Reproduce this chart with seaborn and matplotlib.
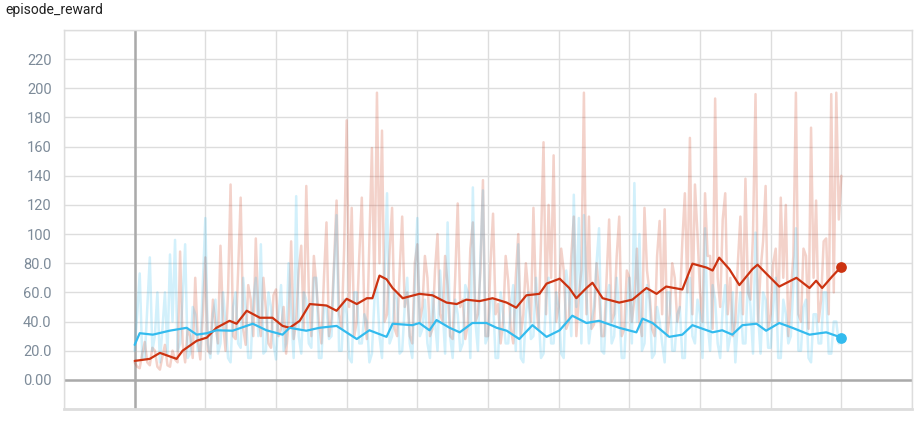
import numpy as np
import pandas as pd
import matplotlib
matplotlib.use("Agg")
import matplotlib.pyplot as plt
import seaborn as sns

red_raw = [12, 9, 8, 18, 26, 12, 10, 22, 20, 9, 7, 16, 24, 10, 9, 20, 14, 12, 88, 25,
           12, 35, 30, 15, 70, 28, 14, 45, 84, 20, 18, 55, 38, 25, 92, 40, 20, 60, 134, 30,
           28, 75, 125, 35, 24, 65, 55, 30, 97, 45, 30, 70, 48, 25, 22, 58, 62, 30, 35, 50,
           18, 40, 95, 28, 40, 75, 92, 35, 133, 60, 30, 85, 65, 40, 25, 70, 108, 30, 42, 80,
           123, 45, 35, 90, 178, 50, 118, 30, 40, 85, 125, 45, 28, 95, 159, 60, 197, 80, 171, 40,
           45, 88, 118, 35, 30, 75, 112, 50, 60, 30, 25, 80, 93, 40, 50, 85, 70, 30, 35, 75,
           100, 45, 40, 85, 65, 30, 28, 70, 121, 50, 55, 28, 38, 90, 108, 40, 45, 75, 137, 30,
           30, 80, 114, 45, 52, 25, 40, 85, 68, 35, 25, 70, 100, 30, 45, 80, 60, 40, 118, 55,
           35, 95, 163, 45, 120, 70, 154, 40, 50, 90, 75, 35, 40, 85, 112, 30, 58, 75, 197, 45,
           112, 35, 38, 80, 60, 30, 30, 70, 110, 40, 45, 85, 112, 30, 35, 75, 70, 40, 55, 90,
           40, 30, 118, 75, 60, 35, 30, 85, 109, 45, 117, 30, 45, 80, 70, 40, 50, 95, 128, 60,
           166, 45, 134, 100, 60, 40, 128, 85, 85, 35, 193, 70, 50, 110, 128, 45, 70, 30, 40, 80,
           112, 45, 138, 60, 55, 100, 196, 40, 75, 95, 133, 35, 45, 80, 90, 40, 125, 70, 120, 30,
           60, 85, 197, 45, 40, 90, 85, 35, 173, 70, 123, 40, 55, 95, 97, 45, 196, 60, 197, 110,
           140]
blue_raw = [20, 45, 73, 15, 15, 50, 84, 20, 30, 60, 12, 35, 60, 18, 86, 40, 96, 20, 25, 55,
            93, 15, 18, 50, 45, 20, 20, 65, 111, 25, 15, 45, 55, 18, 25, 60, 40, 15, 12, 50,
            60, 25, 22, 70, 48, 15, 15, 55, 70, 30, 93, 18, 20, 60, 50, 25, 14, 45, 65, 20,
            25, 80, 45, 15, 126, 30, 18, 60, 55, 25, 22, 70, 70, 15, 15, 50, 50, 28, 30, 75,
            113, 20, 20, 55, 45, 15, 12, 60, 60, 25, 25, 45, 40, 12, 18, 55, 65, 30, 15, 70,
            128, 25, 30, 60, 55, 18, 20, 50, 70, 25, 15, 65, 111, 30, 35, 55, 25, 15, 60, 40,
            20, 75, 50, 18, 108, 30, 15, 55, 45, 20, 25, 65, 60, 15, 132, 40, 20, 85, 130, 25,
            30, 55, 55, 15, 15, 60, 45, 25, 25, 50, 65, 20, 93, 15, 12, 45, 60, 28, 30, 70,
            45, 15, 18, 55, 70, 25, 25, 60, 50, 18, 15, 75, 60, 30, 127, 50, 111, 25, 113, 60,
            25, 40, 50, 80, 104, 20, 18, 55, 65, 25, 30, 70, 45, 15, 15, 50, 70, 25, 135, 40,
            100, 20, 25, 65, 55, 15, 18, 50, 40, 25, 12, 60, 60, 20, 20, 45, 50, 15, 15, 70,
            70, 30, 25, 55, 45, 15, 104, 40, 20, 65, 55, 25, 15, 50, 65, 20, 30, 60, 12, 40,
            60, 25, 25, 70, 50, 18, 101, 45, 18, 60, 55, 22, 22, 50, 70, 15, 15, 55, 45, 25,
            30, 65, 104, 20, 20, 50, 55, 15, 12, 45, 45, 25, 25, 60, 60, 18, 18, 40, 40, 25,
            30]
steps = [i / 2 for i in range(len(red_raw))]

# smoothed curves (tensorboard smoothing)
red_smooth_steps = [0, 3, 5, 8.3, 9.5, 12.3, 14.3, 16.2, 18.8, 20.2, 22.2, 24.8, 27.3, 29.3,
                    30.7, 32.7, 34.7, 38, 40, 42, 44, 46, 47.1, 48.5, 49.9, 51.1, 53.1, 56.4,
                    59, 61.8, 63.8, 65.7, 68.3, 70.9, 73.7, 75.6, 77.6, 80.2, 81.6, 84.2, 86.1,
                    87.5, 89.5, 90.7, 92.7, 96, 98.6, 101.4, 103.4, 105.3, 108.5, 110.5, 113.3,
                    114.5, 115.8, 117.8, 119.8, 122.4, 123.4, 125.1, 127.7, 131.1, 133.7, 135,
                    136.2, 138.2, 140]
red_smooth = [13, 14.4, 18.5, 14.4, 20, 26.8, 29, 35.7, 40.5, 38.5, 47.4, 42.6, 42.6, 37,
              35.7, 40.5, 52, 51, 47.4, 55.6, 52, 56, 56, 71.5, 69, 63, 56, 59,
              58, 53, 52, 55, 54, 56, 53, 49.5, 58, 59, 66, 69.4, 63,
              56, 63, 66.6, 56, 53, 55, 63, 59, 64, 62, 79.7, 77,
              75, 83.8, 76, 65, 76, 79, 73, 64, 70, 63, 68,
              63, 71, 77.6]
blue_smooth_steps = [0, 1, 3.6, 6.9, 10.3, 12.3, 14.3, 16.2, 19.4, 23.4, 26.1, 29.3, 30.7, 34,
                     36.6, 40, 44, 46.5, 49.9, 51.1, 55, 56.4, 58.4, 59.8, 62.4, 64.4, 66.9,
                     69.7, 71.7, 73.7, 76.2, 78.8, 81.6, 84.2, 86.7, 89.5, 92, 96, 99.4, 100.6,
                     102.6, 105.9, 108.5, 110.5, 114.5, 116.4, 118.4, 120.4, 123.2, 125.1, 127.7,
                     130.3, 133.7, 137, 140]
blue_smooth = [24, 32, 31, 33.7, 35.7, 31, 32, 34, 33.7, 38.5, 34, 31, 35.7, 33.7,
               35.7, 37, 28, 34, 29.5, 38.5, 37.5, 39, 34, 41, 35.7, 32.6, 39,
               39, 35.7, 33.7, 28, 37.5, 29.5, 34, 44, 39, 40.5, 35.7, 32.6, 42,
               39, 29.5, 31, 37.5, 32.6, 34, 31, 37.5, 38.5, 33.7, 39,
               35.7, 31, 32.6, 29]

RED = "#cc3311"
BLUE = "#33bbee"

raw = pd.DataFrame({
    "step": steps * 2,
    "value": red_raw + blue_raw,
    "run": ["red"] * len(steps) + ["blue"] * len(steps),
})
smooth = pd.DataFrame({
    "step": red_smooth_steps + blue_smooth_steps,
    "value": red_smooth + blue_smooth,
    "run": ["red"] * len(red_smooth) + ["blue"] * len(blue_smooth),
})
pal = {"red": RED, "blue": BLUE}

sns.set_style("white")
plt.rcParams["font.family"] = ["Roboto", "DejaVu Sans"]

fig = plt.figure(figsize=(9.18, 4.24), dpi=100)
ax = fig.add_axes([64 / 918, 15 / 424, 848 / 918, 379 / 424])

sns.lineplot(data=raw, x="step", y="value", hue="run", palette=pal, ax=ax,
             lw=1.8, alpha=0.22, legend=False, zorder=2)
sns.lineplot(data=smooth, x="step", y="value", hue="run", palette=pal, ax=ax,
             lw=1.6, legend=False, zorder=4)
ax.scatter([red_smooth_steps[-1]], [red_smooth[-1]], s=45, color=RED, zorder=5)
ax.scatter([blue_smooth_steps[-1]], [blue_smooth[-1]], s=45, color=BLUE, zorder=5)

ax.set_xlim(-14, 154)
ax.set_ylim(-20, 240)
ax.set_xticks(np.arange(-14, 155, 14))
ax.set_xticklabels([])
yt = list(range(-20, 241, 20))
ylabels = ["" if v in (-20, 240) else ("0.00" if v == 0 else (f"{v:.1f}" if v < 100 else str(v))) for v in yt]
ax.set_yticks(yt)
ax.set_yticklabels(ylabels)
ax.tick_params(axis="y", length=5, color="#dddddd", labelcolor="#7d8b99", labelsize=10.5, pad=4)
ax.tick_params(axis="x", length=4, color="#dddddd", direction="out")
ax.grid(True, color="#dddddd", lw=1, zorder=0)
ax.axhline(0, color="#aaaaaa", lw=1.8, zorder=1)
ax.axvline(0, color="#aaaaaa", lw=1.8, zorder=1)
for side in ["left", "right", "top"]:
    ax.spines[side].set_color("#dddddd")
    ax.spines[side].set_linewidth(1)
ax.spines["bottom"].set_color("#dddddd")
ax.spines["bottom"].set_linewidth(2)
ax.set_xlabel("")
ax.set_ylabel("")

fig.text(5 / 918, 1 - 3 / 424, "episode_reward", ha="left", va="top", fontsize=10, color="#212121")

fig.savefig("out.png", dpi=100)
